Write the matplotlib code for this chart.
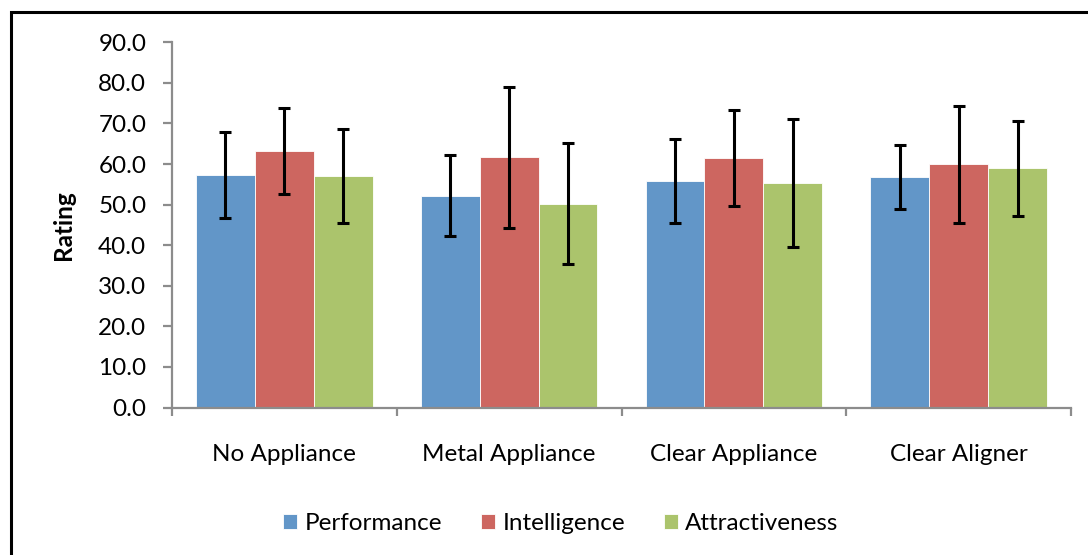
import matplotlib
matplotlib.use("Agg")
import matplotlib.pyplot as plt
import numpy as np
from matplotlib.patches import Rectangle
from matplotlib.ticker import FormatStrFormatter

plt.rcParams['font.family'] = ['Lato', 'DejaVu Sans']

# data
categories = ["No Appliance", "Metal Appliance", "Clear Appliance", "Clear Aligner"]
series = ["Performance", "Intelligence", "Attractiveness"]
performance = [57.3, 52.2, 55.8, 56.8]
intelligence = [63.2, 61.7, 61.5, 59.9]
attractiveness = [57.1, 50.2, 55.3, 58.9]
performance_err = [10.6, 10.0, 10.3, 7.8]
intelligence_err = [10.5, 17.4, 11.8, 14.4]
attractiveness_err = [11.6, 14.9, 15.8, 11.6]

colors = ["#6296C8", "#CD6660", "#ABC46C"]
values = [performance, intelligence, attractiveness]
errors = [performance_err, intelligence_err, attractiveness_err]

fs = 17.5

fig = plt.figure(figsize=(10.88, 5.55), dpi=100)
ax = fig.add_axes([172 / 1088, 1 - 407.5 / 555, 899 / 1088, 365.2 / 555])

x = np.arange(len(categories))
width = 0.262
for i, (vals, errs) in enumerate(zip(values, errors)):
    pos = x + (i - 1) * width
    ax.bar(pos, vals, width, color=colors[i], edgecolor="white", linewidth=0.6,
           label=series[i], zorder=2)
    ax.errorbar(pos, vals, yerr=errs, fmt="none", ecolor="black", elinewidth=2.2,
                capsize=4.2, capthick=2.2, zorder=3)

ax.set_xlim(-0.5, len(categories) - 0.5)
ax.set_ylim(0, 90)
ax.set_yticks(np.arange(0, 91, 10))
ax.yaxis.set_major_formatter(FormatStrFormatter("%.1f"))

# category boundaries as major ticks, names at minor ticks
ax.set_xticks(np.arange(-0.5, len(categories), 1.0))
ax.set_xticklabels([])
ax.set_xticks(x, minor=True)
ax.set_xticklabels(categories, minor=True)

gray = "#8C8C8C"
for side in ["top", "right"]:
    ax.spines[side].set_visible(False)
for side in ["left", "bottom"]:
    ax.spines[side].set_color(gray)
    ax.spines[side].set_linewidth(1.6)

ax.tick_params(axis="y", direction="out", length=6.5, width=1.6, color=gray,
               labelsize=fs, pad=12)
ax.tick_params(axis="x", which="major", direction="out", length=6, width=1.6, color=gray)
ax.tick_params(axis="x", which="minor", length=0, labelsize=fs, pad=26.5)

ax.set_ylabel("Rating", fontsize=fs, fontweight="bold")
ax.yaxis.set_label_coords(-0.108, 0.5)

fig.legend(loc="center", bbox_to_anchor=(561 / 1088, 1 - 524 / 555), ncol=3,
           frameon=False, fontsize=fs, handlelength=0.58, handleheight=0.58,
           handletextpad=0.3, columnspacing=1.6)

# outer chart border (only top and left visible in the crop)
fig.patches.append(Rectangle((11 / 1088, -0.1), 1.2, 1 - 12 / 555 + 0.1,
                             transform=fig.transFigure, fill=False,
                             edgecolor="black", linewidth=2.2))

fig.savefig("out.png", dpi=100)
